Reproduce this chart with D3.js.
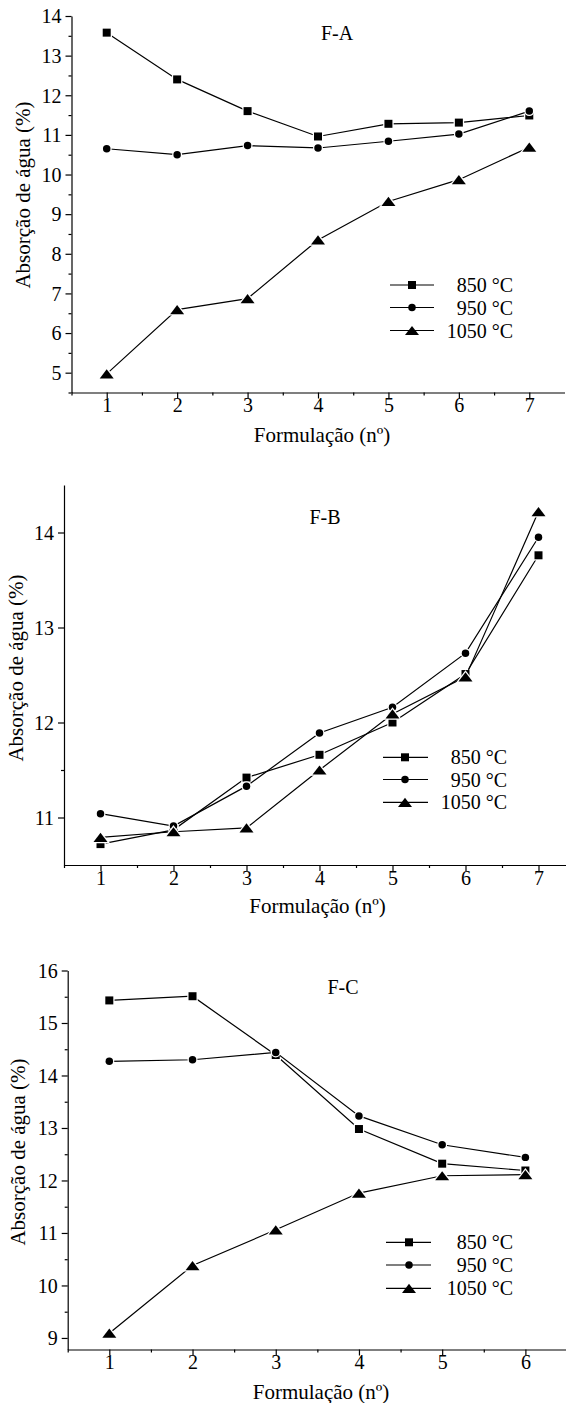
<!DOCTYPE html>
<html>
<head>
<meta charset="utf-8">
<title>Absorção de água - F-A, F-B, F-C</title>
<script src="https://d3js.org/d3.v7.min.js"></script>
<style>
  body { margin: 0; background: #fff; }
</style>
</head>
<body>
<div id="chart"></div>
<script>
// --- dados ---
var seriesNames = ["850 °C", "950 °C", "1050 °C"];
var panelTitles = ["F-A", "F-B", "F-C"];
var yLabel = "Absorção de água (%)";
var xLabel = "Formulação (nº)";

var formA = [1, 2, 3, 4, 5, 6, 7];
var fa850 = [13.58, 12.40, 11.60, 10.96, 11.28, 11.31, 11.49];
var fa950 = [10.65, 10.50, 10.73, 10.67, 10.84, 11.02, 11.60];
var fa1050 = [4.97, 6.59, 6.87, 8.35, 9.32, 9.87, 10.69];

var formB = [1, 2, 3, 4, 5, 6, 7];
var fb850 = [10.72, 10.87, 11.42, 11.66, 12.00, 12.51, 13.76];
var fb950 = [11.04, 10.91, 11.33, 11.89, 12.16, 12.73, 13.95];
var fb1050 = [10.79, 10.85, 10.89, 11.50, 12.09, 12.48, 14.22];

var formC = [1, 2, 3, 4, 5, 6];
var fc850 = [15.43, 15.51, 14.39, 12.98, 12.32, 12.19];
var fc950 = [14.27, 14.30, 14.44, 13.23, 12.68, 12.44];
var fc1050 = [9.09, 10.38, 11.06, 11.76, 12.09, 12.11];

// marcas dos eixos
var yTicksA = [5, 6, 7, 8, 9, 10, 11, 12, 13, 14];
var yMinorA = [4.5, 5.5, 6.5, 7.5, 8.5, 9.5, 10.5, 11.5, 12.5, 13.5];
var yTicksB = [11, 12, 13, 14];
var yMinorB = [11.5];
var yTicksC = [9, 10, 11, 12, 13, 14, 15, 16];
var yMinorC = [9.5, 10.5, 11.5, 12.5, 13.5, 14.5, 15.5];
var xMinor7 = [0.5, 1.5, 2.5, 3.5, 4.5, 5.5, 6.5];
var xMinor6 = [0.5, 1.5, 2.5, 3.5, 4.5, 5.5];

// --- layout ---
var width = 566, height = 1403;
var serif = "'Liberation Serif', 'Times New Roman', Times, 'DejaVu Serif', serif";

var panels = [
  { title: panelTitles[0], xs: formA, ys: [fa850, fa950, fa1050],
    xDomain: [0.5, 7.5], yDomain: [4.5, 14],
    left: 71.5, right: 564.5, top: 16, bottom: 392.5,
    yTicks: yTicksA, yMinor: yMinorA, xMinor: xMinor7,
    titleX: 337, titleY: 39.5,
    legX0: 390, legX1: 434, legM: 412, legT: 513, legY: [285, 307.5, 330.5],
    ylabX: 22.5, ylabY: 195, xlabX: 322, xlabY: 442 },
  { title: panelTitles[1], xs: formB, ys: [fb850, fb950, fb1050],
    xDomain: [0.5, 7.5], yDomain: [10.5, 14.5],
    left: 64, right: 575, top: 485, bottom: 865,
    yTicks: yTicksB, yMinor: yMinorB, xMinor: xMinor7,
    titleX: 325, titleY: 524,
    legX0: 383, legX1: 428, legM: 405, legT: 507, legY: [757.3, 779.5, 802.3],
    ylabX: 16, ylabY: 668, xlabX: 317.5, xlabY: 913 },
  { title: panelTitles[2], xs: formC, ys: [fc850, fc950, fc1050],
    xDomain: [0.5, 6.5], yDomain: [8.78, 16],
    left: 67.7, right: 567, top: 970.5, bottom: 1349.5,
    yTicks: yTicksC, yMinor: yMinorC, xMinor: xMinor6,
    titleX: 343, titleY: 994,
    legX0: 386, legX1: 431, legM: 409, legT: 513, legY: [1242.3, 1265, 1288.3],
    ylabX: 18, ylabY: 1152, xlabX: 321, xlabY: 1399 }
];

// triângulo achatado como no Origin
var flatTriangle = {
  draw: function(ctx, size) {
    var w = size, h = size * 0.66;
    ctx.moveTo(0, -h / 2);
    ctx.lineTo(w / 2, h / 2);
    ctx.lineTo(-w / 2, h / 2);
    ctx.closePath();
  }
};
var symbols = [
  d3.symbol().type(d3.symbolSquare).size(64),
  d3.symbol().type(d3.symbolCircle).size(44),
  d3.symbol().type(flatTriangle).size(14)
];

var svg = d3.select("#chart").append("svg")
  .attr("width", width).attr("height", height)
  .attr("font-family", serif);

panels.forEach(function(p) {
  var x = d3.scaleLinear().domain(p.xDomain).range([p.left, p.right]);
  var y = d3.scaleLinear().domain(p.yDomain).range([p.bottom, p.top]);
  var g = svg.append("g");

  // eixo y
  var yAxis = g.append("g").attr("transform", "translate(" + p.left + ",0)")
    .call(d3.axisLeft(y).tickValues(p.yTicks).tickSize(6).tickSizeOuter(0).tickPadding(4).tickFormat(d3.format("d")));
  g.append("g").attr("transform", "translate(" + p.left + ",0)")
    .call(d3.axisLeft(y).tickValues(p.yMinor).tickSize(3).tickSizeOuter(0).tickFormat(""))
    .select(".domain").remove();

  // eixo x
  var xAxis = g.append("g").attr("transform", "translate(0," + p.bottom + ")")
    .call(d3.axisBottom(x).tickValues(p.xs).tickSize(6).tickSizeOuter(0).tickPadding(0).tickFormat(d3.format("d")));
  g.append("g").attr("transform", "translate(0," + p.bottom + ")")
    .call(d3.axisBottom(x).tickValues(p.xMinor).tickSize(3).tickSizeOuter(0).tickFormat(""))
    .select(".domain").remove();

  g.selectAll(".domain, .tick line").attr("stroke", "#000").attr("stroke-width", 1.2);
  yAxis.attr("font-family", serif).attr("font-size", 20);
  xAxis.attr("font-family", serif).attr("font-size", 20);
  yAxis.selectAll("text").attr("fill", "#000").attr("dy", "0.34em");
  xAxis.selectAll("text").attr("fill", "#000").attr("dy", "0.68em");

  // séries
  var line = d3.line()
    .x(function(d, i) { return x(p.xs[i]); })
    .y(function(d) { return y(d); });

  p.ys.forEach(function(vals, s) {
    g.append("path").datum(vals)
      .attr("d", line)
      .attr("fill", "none")
      .attr("stroke", "#000")
      .attr("stroke-width", 1.2);

    var pts = g.append("g").selectAll("g")
      .data(vals).enter().append("g")
      .attr("transform", function(d, i) { return "translate(" + x(p.xs[i]) + "," + y(d) + ")"; });
    pts.append("path").attr("d", symbols[s])
      .attr("fill", "#fff").attr("stroke", "#fff").attr("stroke-width", 2.5);
    pts.append("path").attr("d", symbols[s]).attr("fill", "#000");
  });

  // título do painel
  g.append("text")
    .attr("x", p.titleX).attr("y", p.titleY)
    .attr("text-anchor", "middle")
    .attr("font-family", serif)
    .attr("font-size", 20)
    .text(p.title);

  // legenda
  seriesNames.forEach(function(name, s) {
    var ly = p.legY[s];
    g.append("line")
      .attr("x1", p.legX0).attr("x2", p.legX1)
      .attr("y1", ly).attr("y2", ly)
      .attr("stroke", "#000").attr("stroke-width", 1.2);
    g.append("path")
      .attr("transform", "translate(" + p.legM + "," + ly + ")")
      .attr("d", symbols[s]).attr("fill", "#000");
    g.append("text")
      .attr("x", p.legT).attr("y", ly + 7)
      .attr("text-anchor", "end")
      .attr("font-family", serif)
      .attr("font-size", 20)
      .text(name);
  });

  // rótulos dos eixos
  g.append("text")
    .attr("transform", "translate(" + p.ylabX + "," + p.ylabY + ") rotate(-90)")
    .attr("text-anchor", "middle")
    .attr("dy", "0.35em")
    .attr("font-family", serif)
    .attr("font-size", 21)
    .text(yLabel);
  g.append("text")
    .attr("x", p.xlabX).attr("y", p.xlabY)
    .attr("text-anchor", "middle")
    .attr("font-family", serif)
    .attr("font-size", 21)
    .text(xLabel);
});
</script>
</body>
</html>
